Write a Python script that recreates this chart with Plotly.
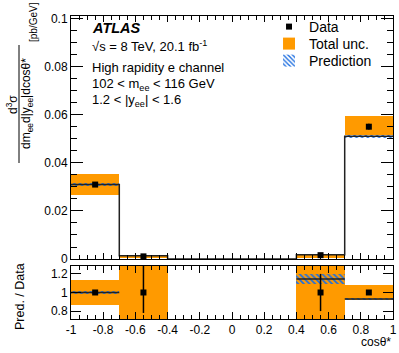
import plotly.graph_objects as go
from plotly.subplots import make_subplots

# bin edges in cos(theta*) and bins that hold a measurement
edges = [-1.0, -0.7, -0.4, 0.4, 0.7, 1.0]
centers = [-0.85, -0.55, 0.55, 0.85]
widths = [0.3, 0.3, 0.3, 0.3]

# upper panel, cross-section in pb/GeV
data_xs = [0.0310, 0.0011, 0.0016, 0.0551]
data_err = [0.0004, 0.0003, 0.0003, 0.0012]
tot_lo = [0.0267, 0.0004, 0.0004, 0.0517]
tot_hi = [0.0352, 0.0017, 0.0021, 0.0596]
pred_step = [0.0310, 0.0014, 0.0, 0.0018, 0.0511]   # one value per edge interval
pred_lo = [0.0305, 0.0012, 0.0016, 0.0505]
pred_hi = [0.0315, 0.0016, 0.0020, 0.0518]

# lower panel, Pred. / Data
ratio_data = [1.0, 1.0, 1.0, 1.0]
ratio_err_up = [0.02, 0.5, 0.2, 0.02]
ratio_err_dn = [0.02, 0.22, 0.2, 0.02]
ratio_tot_lo = [0.865, 0.4, 0.4, 0.92]
ratio_tot_hi = [1.13, 1.6, 1.6, 1.08]
ratio_pred = [1.0, 1.45, 1.145, 0.93]
ratio_pred_lo = [0.98, 1.40, 1.09, 0.918]
ratio_pred_hi = [1.02, 1.50, 1.20, 0.945]

x_tickvals = [-1, -0.8, -0.6, -0.4, -0.2, 0, 0.2, 0.4, 0.6, 0.8, 1]
x_ticktext = ['-1', '-0.8', '-0.6', '-0.4', '-0.2', '0', '0.2', '0.4', '0.6', '0.8', '1']

ORANGE = '#FF9A00'
BLUE = '#1f6fe0'
FONT = 'Liberation Sans, Arial, sans-serif'

fig = make_subplots(rows=2, cols=1, shared_xaxes=True)

# total uncertainty bands
for row, lo, hi, show in [(1, tot_lo, tot_hi, True), (2, ratio_tot_lo, ratio_tot_hi, False)]:
    fig.add_trace(go.Bar(x=centers, y=[h - l for h, l in zip(hi, lo)], base=lo, width=widths,
                         marker=dict(color=ORANGE, line=dict(width=0)),
                         name='Total unc.', legend='legend2', showlegend=show), row=row, col=1)

# prediction bands (hatched)
for row, lo, hi, show in [(1, pred_lo, pred_hi, True), (2, ratio_pred_lo, ratio_pred_hi, False)]:
    fig.add_trace(go.Bar(x=centers, y=[h - l for h, l in zip(hi, lo)], base=lo, width=widths,
                         marker=dict(color='rgba(0,0,0,0)', line=dict(width=0),
                                     pattern=dict(shape='\\', fgcolor=BLUE, fgopacity=1, size=4,
                                                  solidity=0.45, fillmode='overlay')),
                         name='Prediction', legend='legend3', showlegend=show), row=row, col=1)

# prediction histogram outline
fig.add_trace(go.Scatter(x=edges, y=pred_step + [pred_step[-1]], mode='lines', line_shape='hv',
                         line=dict(color='#222222', width=1.5), showlegend=False, hoverinfo='skip'),
              row=1, col=1)

# ratio prediction central values, one segment per bin
seg_x, seg_y = [], []
for c, w, r in zip(centers, widths, ratio_pred):
    seg_x += [c - w / 2, c + w / 2, None]
    seg_y += [r, r, None]
fig.add_trace(go.Scatter(x=seg_x, y=seg_y, mode='lines', line=dict(color='#222222', width=1.5),
                         showlegend=False, hoverinfo='skip'), row=2, col=1)

# data points
fig.add_trace(go.Scatter(x=centers, y=data_xs, mode='markers', name='Data', legend='legend',
                         marker=dict(symbol='square', size=6, color='black'),
                         error_y=dict(type='data', array=data_err, color='black', thickness=1.5, width=0)),
              row=1, col=1)
fig.add_trace(go.Scatter(x=centers, y=ratio_data, mode='markers', showlegend=False,
                         marker=dict(symbol='square', size=6, color='black'),
                         error_y=dict(type='data', array=ratio_err_up, arrayminus=ratio_err_dn,
                                      color='black', thickness=1.5, width=0)),
              row=2, col=1)

axis_common = dict(showline=True, linecolor='black', linewidth=1, mirror='allticks', ticks='inside',
                   tickcolor='black', showgrid=False, zeroline=False, automargin=False,
                   tickfont=dict(family=FONT, size=12, color='black'))

fig.update_xaxes(range=[-1, 1], tickvals=x_tickvals, ticktext=x_ticktext, ticklen=7,
                 minor=dict(ticks='inside', dtick=0.05, ticklen=4, tickcolor='black'), **axis_common)
fig.update_xaxes(showticklabels=False, ticklen=6, row=1, col=1)
fig.update_yaxes(range=[0, 0.1012], dtick=0.02, ticklen=12,
                 minor=dict(ticks='inside', dtick=0.005, ticklen=6, tickcolor='black'),
                 row=1, col=1, **axis_common)
fig.update_yaxes(range=[0.715, 1.285], tickvals=[0.8, 1.0, 1.2], ticklen=10,
                 row=2, col=1, **axis_common)


def px(x):
    return (x - 71) / 322


def py(y):
    return (319 - y) / 303


legend_style = dict(x=0.615, xanchor='left', yanchor='middle', bgcolor='rgba(0,0,0,0)',
                    font=dict(family=FONT, size=14), itemwidth=30)

fig.update_layout(
    template='none',
    width=399, height=353,
    margin=dict(l=71, r=6, t=16, b=34, autoexpand=False),
    paper_bgcolor='white', plot_bgcolor='white',
    barmode='overlay', bargap=0,
    font=dict(family=FONT, size=12, color='black'),
    yaxis=dict(domain=[0.198, 1.0]),
    yaxis2=dict(domain=[0.0, 0.175]),
    legend=dict(y=py(27), **legend_style),
    legend2=dict(y=py(44), **legend_style),
    legend3=dict(y=py(61), **legend_style),
)

texts = [
    ('<b><i>ATLAS</i></b>', 90, 28, 14.5),
    ('√s = 8 TeV, 20.1 fb<sup>-1</sup>', 90, 46, 13),
    ('High rapidity e channel', 90, 67, 13),
    ('102 < m<sub>ee</sub> < 116 GeV', 90, 84, 13),
    ('1.2 < |y<sub>ee</sub>| < 1.6', 90, 100, 13),
]
for t, x, y, s in texts:
    fig.add_annotation(text=t, x=px(x), y=py(y), xref='paper', yref='paper', xanchor='left',
                       yanchor='middle', showarrow=False, font=dict(family=FONT, size=s, color='black'))

# y axis title drawn as a fraction
ytitle = [
    ('d<sup>3</sup>σ', 12, 104, 12),
    ('dm<sub>ee</sub>d|y<sub>ee</sub>|dcosθ*', 27, 104, 12),
    ('[pb/GeV]', 33, 22, 10),
]
for t, x, y, s in ytitle:
    fig.add_annotation(text=t, x=px(x), y=py(y), xref='paper', yref='paper', xanchor='center',
                       yanchor='middle', textangle=-90, showarrow=False, font=dict(family=FONT, size=s))
fig.add_shape(type='line', xref='paper', yref='paper', x0=px(19), x1=px(19), y0=py(163), y1=py(45),
              line=dict(color='black', width=1))
fig.add_annotation(text='Pred. / Data', x=px(20), y=py(297), xref='paper', yref='paper', xanchor='center',
                   yanchor='middle', textangle=-90, showarrow=False, font=dict(family=FONT, size=12.5))
fig.add_annotation(text='cosθ*', x=1, y=py(342), xref='paper', yref='paper', xanchor='right',
                   yanchor='middle', showarrow=False, font=dict(family=FONT, size=12))

fig.write_html("out.html", post_script="document.body.style.margin='0';",
               config={'displayModeBar': False})
